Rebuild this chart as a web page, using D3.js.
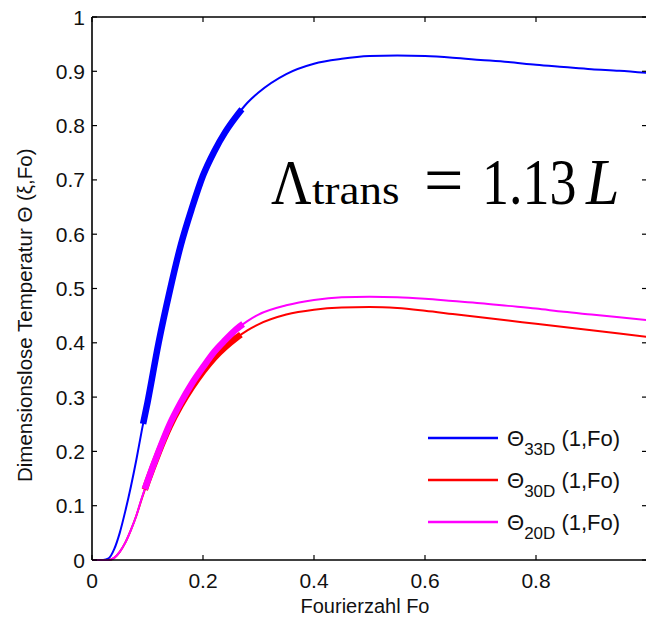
<!DOCTYPE html>
<html>
<head>
<meta charset="utf-8">
<script src="https://cdn.jsdelivr.net/npm/d3@7"></script>
<style>
  html, body { margin: 0; padding: 0; background: #fff; overflow: hidden; }
  svg { display: block; }
</style>
</head>
<body>
<svg id="chart" width="646" height="621"></svg>
<script>
// ---------------- data ----------------
const fo = [0, 0.02, 0.03, 0.04, 0.05, 0.06, 0.07, 0.08, 0.09, 0.10, 0.12, 0.14, 0.16, 0.18,
            0.20, 0.22, 0.24, 0.26, 0.28, 0.30, 0.35, 0.40, 0.45, 0.50, 0.55, 0.60, 0.65,
            0.70, 0.75, 0.80, 0.85, 0.90, 0.95, 1.00];
const theta33D = [0, 0, 0.003, 0.02, 0.05, 0.09, 0.135, 0.185, 0.24, 0.29, 0.40, 0.495, 0.58, 0.648,
                  0.708, 0.752, 0.788, 0.817, 0.842, 0.861, 0.895, 0.914, 0.923, 0.928, 0.929, 0.928, 0.925,
                  0.921, 0.917, 0.912, 0.908, 0.904, 0.901, 0.897];
const theta30D = [0, 0, 0, 0.004, 0.015, 0.032, 0.055, 0.082, 0.114, 0.144, 0.198, 0.246, 0.285, 0.318,
                  0.347, 0.372, 0.392, 0.409, 0.423, 0.434, 0.452, 0.461, 0.465, 0.466, 0.464, 0.459, 0.453,
                  0.447, 0.441, 0.435, 0.429, 0.423, 0.417, 0.411];
const theta20D = [0, 0, 0, 0.004, 0.015, 0.032, 0.055, 0.082, 0.115, 0.145, 0.20, 0.25, 0.29, 0.325,
                  0.355, 0.383, 0.405, 0.425, 0.44, 0.452, 0.469, 0.479, 0.484, 0.485, 0.484, 0.481, 0.477,
                  0.473, 0.468, 0.463, 0.457, 0.452, 0.447, 0.442];
const seriesLabels = ["33D", "30D", "20D"];
const thickFrom = [0.092, 0.095, 0.095];
const thickTo   = [0.270, 0.268, 0.272];
const xTicks = [0, 0.2, 0.4, 0.6, 0.8, 1.0];
const xTickLabels = ["0", "0.2", "0.4", "0.6", "0.8", ""];
const yTicks = [0, 0.1, 0.2, 0.3, 0.4, 0.5, 0.6, 0.7, 0.8, 0.9, 1];
const yTickLabels = ["0", "0.1", "0.2", "0.3", "0.4", "0.5", "0.6", "0.7", "0.8", "0.9", "1"];
const xTitle = "Fourierzahl Fo";
const yTitle = "Dimensionslose Temperatur Θ (ξ,Fo)";

// ---------------- layout ----------------
const colors = ["#0000ff", "#ff0000", "#ff00ff"];
const svg = d3.select("#chart");
const L = 92, R = 647, T = 17, B = 560;
const x = d3.scaleLinear().domain([0, 1]).range([L, R]);
const y = d3.scaleLinear().domain([0, 1]).range([B, T]);
const font = "'Liberation Sans', Arial, Helvetica, sans-serif";

const series = [theta33D, theta30D, theta20D].map((vals, i) => ({
  name: seriesLabels[i], color: colors[i],
  pts: fo.map((f, j) => [f, vals[j]]),
  from: thickFrom[i], to: thickTo[i]
}));

const line = d3.line().x(d => x(d[0])).y(d => y(d[1])).curve(d3.curveMonotoneX);

// ---------------- curves ----------------
const g = svg.append("g");
series.forEach(s => {
  g.append("path").attr("d", line(s.pts)).attr("fill", "none")
    .attr("stroke", s.color).attr("stroke-width", 2);
});
function lengthAtX(node, px) {
  let lo = 0, hi = node.getTotalLength();
  for (let k = 0; k < 40; k++) {
    const mid = (lo + hi) / 2;
    if (node.getPointAtLength(mid).x < px) lo = mid; else hi = mid;
  }
  return (lo + hi) / 2;
}
series.forEach(s => {
  const p = g.append("path").attr("d", line(s.pts)).attr("fill", "none")
    .attr("stroke", s.color).attr("stroke-width", 6.5).attr("stroke-linecap", "butt");
  const node = p.node();
  const total = node.getTotalLength();
  const a = lengthAtX(node, x(s.from)), b = lengthAtX(node, x(s.to));
  p.attr("stroke-dasharray", `0 ${a} ${b - a} ${total}`);
});

// ---------------- axes ----------------
const ax = svg.append("g").attr("stroke", "#000");
ax.append("line").attr("x1", L).attr("x2", L).attr("y1", T).attr("y2", B).attr("stroke-width", 1.6);
ax.append("line").attr("x1", L).attr("x2", R).attr("y1", B).attr("y2", B).attr("stroke-width", 1.6);
ax.append("line").attr("x1", L).attr("x2", R).attr("y1", T).attr("y2", T).attr("stroke-width", 1.6);
const tl = 5;
xTicks.forEach(v => {
  ax.append("line").attr("x1", x(v)).attr("x2", x(v)).attr("y1", B).attr("y2", B - tl).attr("stroke-width", 1.2);
  ax.append("line").attr("x1", x(v)).attr("x2", x(v)).attr("y1", T).attr("y2", T + tl).attr("stroke-width", 1.2);
});
yTicks.forEach(v => {
  ax.append("line").attr("x1", L).attr("x2", L + tl).attr("y1", y(v)).attr("y2", y(v)).attr("stroke-width", 1.2);
  ax.append("line").attr("x1", R).attr("x2", R - tl).attr("y1", y(v)).attr("y2", y(v)).attr("stroke-width", 1.2);
});

const lab = svg.append("g").attr("font-family", font).attr("font-size", 21).attr("fill", "#111");
xTicks.forEach((v, i) => {
  lab.append("text").attr("x", x(v)).attr("y", B + 28).attr("text-anchor", "middle").text(xTickLabels[i]);
});
yTicks.forEach((v, i) => {
  lab.append("text").attr("x", L - 7).attr("y", y(v) + 7.5).attr("text-anchor", "end").text(yTickLabels[i]);
});
lab.append("text").attr("x", 365).attr("y", 613).attr("text-anchor", "middle")
  .attr("font-size", 20).text(xTitle);
lab.append("text").attr("transform", "translate(32,482) rotate(-90)").attr("text-anchor", "start")
  .attr("font-size", 20.5).text(yTitle);

// ---------------- annotation ----------------
const serif = "'Liberation Serif', 'Times New Roman', serif";
const ann = svg.append("g").attr("font-family", serif).attr("fill", "#000");
function piece(px, size, sy, txt, italic) {
  const t = ann.append("text").attr("transform", `translate(${px},204) scale(1,${sy})`)
    .attr("font-size", size).text(txt);
  if (italic) t.attr("font-style", "italic");
}
piece(271, 56, 1.15, "Λ");
piece(312, 45, 0.88, "trans");
piece(424, 70, 1.0, "=");
piece(482, 54, 1.2, "1.13");
piece(586, 60, 1.1, "L", true);

// ---------------- legend ----------------
const leg = svg.append("g").attr("font-family", font).attr("fill", "#111");
series.forEach((s, i) => {
  const cy = 438 + i * 42;
  leg.append("line").attr("x1", 428).attr("x2", 498).attr("y1", cy).attr("y2", cy)
    .attr("stroke", s.color).attr("stroke-width", 2.5);
  const t = leg.append("text").attr("x", 507).attr("y", cy + 8).attr("font-size", 22);
  t.append("tspan").text("Θ");
  t.append("tspan").attr("font-size", 17).attr("dy", 9).text(s.name);
  t.append("tspan").attr("dy", -9).text(" (1,Fo)");
});
</script>
</body>
</html>
